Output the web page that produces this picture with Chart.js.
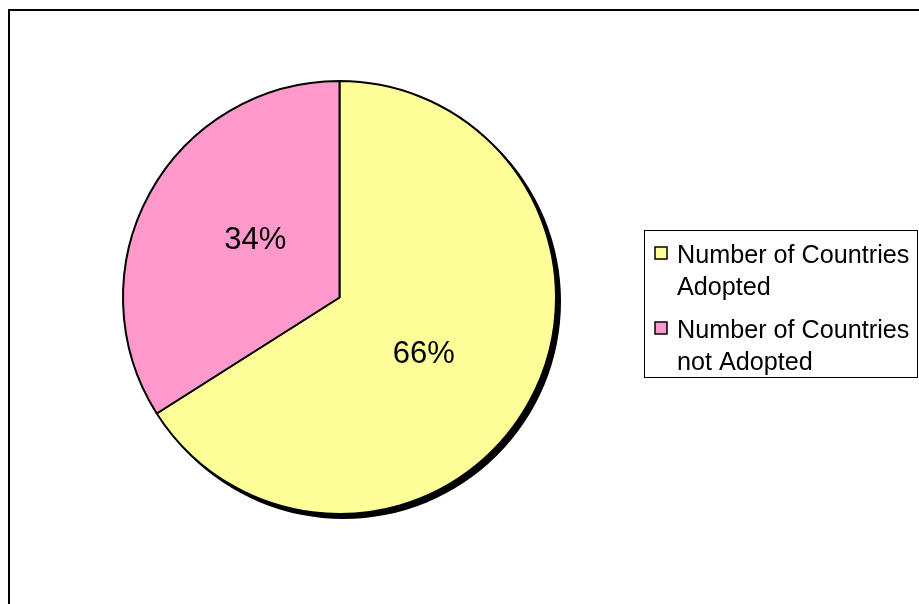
<!DOCTYPE html>
<html>
<head>
<meta charset="utf-8">
<title>Countries Adopted</title>
<script src="https://cdn.jsdelivr.net/npm/chart.js@4.4.1/dist/chart.umd.min.js"></script>
<style>
  html, body { margin: 0; padding: 0; background: #ffffff; }
  canvas { display: block; }
</style>
</head>
<body>
<canvas id="pie" width="919" height="604"></canvas>
<script>
// Category names (each as its legend lines) and their counts
const categories = [
  ['Number of Countries', 'Adopted'],
  ['Number of Countries', 'not Adopted']
];
const values = [66, 34];
const sliceColors = ['#FFFF99', '#FF99CC'];

const FONT = '"Liberation Sans", Arial, Helvetica, sans-serif';

// White page with the black outer frame
const framePlugin = {
  id: 'frame',
  beforeDraw(chart) {
    const ctx = chart.ctx;
    ctx.save();
    ctx.fillStyle = '#ffffff';
    ctx.fillRect(0, 0, chart.width, chart.height);
    ctx.strokeStyle = '#000000';
    ctx.lineWidth = 2;
    ctx.strokeRect(9, 10, chart.width + 50, chart.height + 50);
    ctx.restore();
  }
};

// Solid drop shadow behind the pie
const shadowPlugin = {
  id: 'pieShadow',
  beforeDatasetsDraw(chart) {
    const arc = chart.getDatasetMeta(0).data[0];
    if (!arc) return;
    const ctx = chart.ctx;
    ctx.save();
    ctx.fillStyle = '#000000';
    ctx.beginPath();
    ctx.arc(arc.x + 4, arc.y + 4, arc.outerRadius + 1, 0, Math.PI * 2);
    ctx.fill();
    ctx.restore();
  }
};

// Percentage labels inside each slice
const percentPlugin = {
  id: 'percentLabels',
  afterDatasetsDraw(chart) {
    const meta = chart.getDatasetMeta(0);
    const data = chart.data.datasets[0].data;
    const total = data.reduce((a, b) => a + b, 0);
    const ctx = chart.ctx;
    const turn = 5.3 * Math.PI / 180;
    ctx.save();
    ctx.fillStyle = '#000000';
    ctx.font = '31px ' + FONT;
    ctx.textAlign = 'center';
    ctx.textBaseline = 'middle';
    meta.data.forEach((arc, i) => {
      const mid = (arc.startAngle + arc.endAngle) / 2 + turn;
      const r = arc.outerRadius * 0.47;
      const x = arc.x + Math.cos(mid) * r;
      const y = arc.y + Math.sin(mid) * r;
      ctx.fillText(Math.round(data[i] / total * 100) + '%', x, y);
    });
    ctx.restore();
  }
};

// Boxed legend to the right of the pie
const legendPlugin = {
  id: 'boxLegend',
  afterDraw(chart) {
    const ctx = chart.ctx;
    const labels = chart.data.labels;
    const colors = chart.data.datasets[0].backgroundColor;
    const box = { x: 644.5, y: 230.5, w: 273, h: 147 };
    ctx.save();
    ctx.fillStyle = '#ffffff';
    ctx.fillRect(box.x, box.y, box.w, box.h);
    ctx.strokeStyle = '#000000';
    ctx.lineWidth = 1;
    ctx.strokeRect(box.x, box.y, box.w, box.h);

    ctx.font = '25.2px ' + FONT;
    ctx.textAlign = 'left';
    ctx.textBaseline = 'alphabetic';
    const lineGap = 32;
    const groupGap = 43;
    let baseline = 262.5;
    labels.forEach((lines, i) => {
      // colour swatch
      ctx.fillStyle = colors[i];
      ctx.fillRect(655, baseline - 15.5, 12, 12);
      ctx.strokeStyle = '#000000';
      ctx.lineWidth = 1.5;
      ctx.strokeRect(655, baseline - 15.5, 12, 12);
      ctx.fillStyle = '#000000';
      lines.forEach((t, j) => {
        ctx.fillText(t, 677, baseline + j * lineGap);
      });
      baseline += (lines.length - 1) * lineGap + groupGap;
    });
    ctx.restore();
  }
};

new Chart(document.getElementById('pie'), {
  type: 'pie',
  data: {
    labels: categories,
    datasets: [{
      data: values,
      backgroundColor: sliceColors,
      borderColor: '#000000',
      borderWidth: 2,
      hoverOffset: 0
    }]
  },
  options: {
    responsive: false,
    animation: false,
    events: [],
    layout: {
      padding: { left: 122, right: 362, top: 80, bottom: 89 }
    },
    plugins: {
      legend: { display: false },
      tooltip: { enabled: false }
    }
  },
  plugins: [framePlugin, shadowPlugin, percentPlugin, legendPlugin]
});
</script>
</body>
</html>
